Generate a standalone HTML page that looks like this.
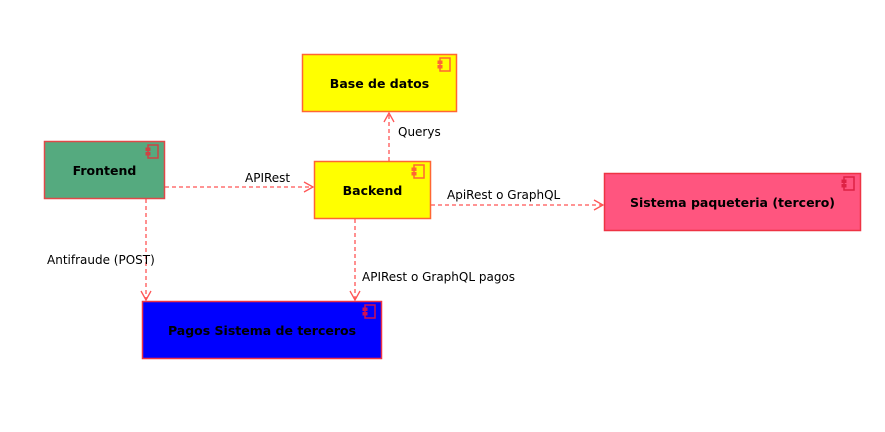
<!DOCTYPE html>
<html><head><meta charset="utf-8"><style>
html,body{margin:0;padding:0;background:#fff;}
svg{display:block;font-family:"DejaVu Sans","Liberation Sans",sans-serif;}
</style></head><body>
<svg width="885" height="432" viewBox="0 0 885 432" xmlns="http://www.w3.org/2000/svg">
<defs>
<g id="ic"><rect x="2" y="0" width="10" height="13" fill="none" stroke-width="1.5"/><rect x="0" y="3" width="4" height="2.5"/><rect x="0" y="7.5" width="4" height="2.5"/></g>
</defs>
<!-- edges -->
<g stroke="#ff5555" stroke-width="1.3" stroke-dasharray="4,3" fill="none">
<line x1="165" y1="187" x2="313" y2="187"/>
<line x1="389" y1="161" x2="389" y2="113"/>
<line x1="431" y1="205" x2="603" y2="205"/>
<line x1="146" y1="199" x2="146" y2="300"/>
<line x1="355" y1="219" x2="355" y2="300"/>
</g>
<g stroke="#ff5555" stroke-width="1.3" fill="none">
<polyline points="304,182 313,187 304,192"/>
<polyline points="384,122 389,113 394,122"/>
<polyline points="594,200 603,205 594,210"/>
<polyline points="141,291 146,300 151,291"/>
<polyline points="350,291 355,300 360,291"/>
</g>
<!-- boxes -->
<rect x="302.5" y="54.5" width="154" height="57" fill="#ffff00" stroke="#ff6633" stroke-width="1.5"/>
<rect x="44.5" y="141.5" width="120" height="57" fill="#55aa7f" stroke="#e04848" stroke-width="1.5"/>
<rect x="314.5" y="161.5" width="116" height="57" fill="#ffff00" stroke="#ff6633" stroke-width="1.5"/>
<rect x="604.5" y="173.5" width="256" height="57" fill="#ff557f" stroke="#ee3344" stroke-width="1.5"/>
<rect x="142.5" y="301.5" width="239" height="57" fill="#0000ff" stroke="#ee3344" stroke-width="1.5"/>
<use href="#ic" x="438" y="58" stroke="#ff6633" fill="#ff6633"/>
<use href="#ic" x="146" y="145" stroke="#cc4444" fill="#cc4444"/>
<use href="#ic" x="412" y="165" stroke="#ff6633" fill="#ff6633"/>
<use href="#ic" x="842" y="177" stroke="#dd2244" fill="#dd2244"/>
<use href="#ic" x="363" y="305" stroke="#cc1155" fill="#cc1155"/>
<!-- labels -->
<g font-size="12.5" font-weight="bold" fill="#000" text-anchor="middle">
<text x="379.5" y="88">Base de datos</text>
<text x="104.5" y="175">Frontend</text>
<text x="372.5" y="195">Backend</text>
<text x="732.5" y="207">Sistema paqueteria (tercero)</text>
<text x="262" y="335">Pagos Sistema de terceros</text>
</g>
<g font-size="12" fill="#000">
<text x="245" y="182">APIRest</text>
<text x="398" y="136">Querys</text>
<text x="447" y="199">ApiRest o GraphQL</text>
<text x="47" y="264">Antifraude (POST)</text>
<text x="362" y="281">APIRest o GraphQL pagos</text>
</g>
</svg>
</body></html>
